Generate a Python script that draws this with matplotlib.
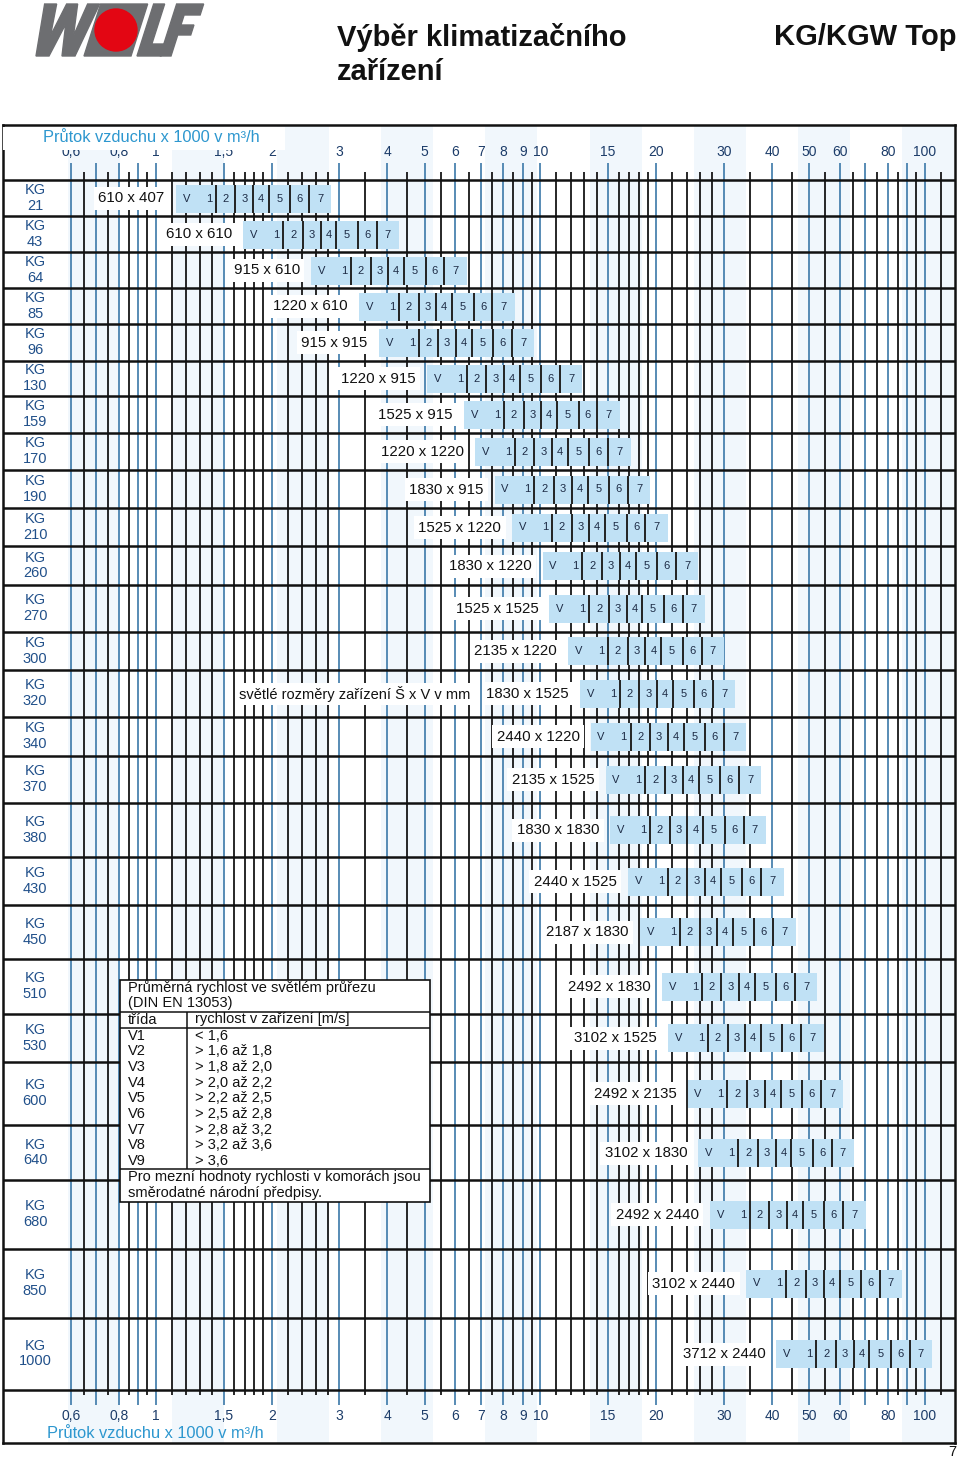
import numpy as np
import matplotlib.pyplot as plt
from matplotlib.patches import Rectangle, Polygon, Circle
from matplotlib.ticker import NullLocator
import matplotlib.transforms as mtransforms

plt.rcParams['font.family'] = ['Liberation Sans', 'DejaVu Sans']

# unit sizes and clear inner dimensions (mm)
models = ['21', '43', '64', '85', '96', '130', '159', '170', '190', '210', '260', '270', '300',
          '320', '340', '370', '380', '430', '450', '510', '530', '600', '640', '680', '850', '1000']
width_mm = [610, 610, 915, 1220, 915, 1220, 1525, 1220, 1830, 1525, 1830, 1525, 2135,
            1830, 2440, 2135, 1830, 2440, 2187, 2492, 3102, 2492, 3102, 2492, 3102, 3712]
height_mm = [407, 610, 610, 610, 915, 915, 915, 1220, 915, 1220, 1220, 1525, 1220,
             1525, 1220, 1525, 1830, 1525, 1830, 1830, 1525, 2135, 1830, 2440, 2440, 2440]

# velocity classes (m/s) after DIN EN 13053
classes = ['V1', 'V2', 'V3', 'V4', 'V5', 'V6', 'V7', 'V8', 'V9']
class_limits = [1.6, 1.8, 2.0, 2.2, 2.5, 2.8, 3.2, 3.6]
bar_start_v = 1.26   # left end of the "V" cell
bar_classes = 7

# air flow axis, x 1000 m3/h
major_lines = [0.6, 0.7, 0.8, 0.9, 1, 1.5, 2, 3, 4, 5, 6, 7, 8, 9, 10, 15, 20, 30, 40, 50,
               60, 70, 80, 90, 100]
minor_lines = [0.65, 0.75, 0.85, 0.95, 1.1, 1.2, 1.3, 1.4, 1.6, 1.7, 1.8, 1.9, 2.2, 2.4, 2.6,
               2.8, 3.5, 4.5, 5.5, 6.5, 7.5, 8.5, 9.5, 11, 12, 13, 14, 16, 17, 18, 19, 22, 24,
               26, 28, 35, 45, 55, 65, 75, 85, 95, 110]
tick_values = [0.6, 0.8, 1, 1.5, 2, 3, 4, 5, 6, 7, 8, 9, 10, 15, 20, 30, 40, 50, 60, 80, 100]
tick_labels = ['0,6', '0,8', '1', '1,5', '2', '3', '4', '5', '6', '7', '8', '9', '10', '15',
               '20', '30', '40', '50', '60', '80', '100']
axis_title = 'Průtok vzduchu x 1000 v m³/h'

# layout (pixels from the top of the page)
W, H = 960, 1461
X_MIN, X_MAX = 0.4, 120
FRAME_L, FRAME_R, FRAME_T, FRAME_B = 3, 955.4, 125, 1443
row_edges = [180, 216, 252, 288, 324, 360.5, 396, 432.5, 470, 508, 546, 585, 631.5, 670,
             716.5, 756, 802.5, 857, 905, 958.5, 1014, 1061.5, 1125, 1180, 1248.5, 1317.5, 1389.5]

BLUE_LINE = '#3b78a8'
DARK = '#161616'
BAR = '#c0e1f5'
NAVY = '#1c3c69'
KG_BLUE = '#21508a'
CYAN = '#2d97cf'


def px2x(px):
    return X_MIN * (X_MAX / X_MIN) ** ((px - FRAME_L) / (FRAME_R - FRAME_L))


fig = plt.figure(figsize=(W / 100, H / 100), dpi=100)
ax = fig.add_axes([FRAME_L / W, 1 - FRAME_B / H, (FRAME_R - FRAME_L) / W, (FRAME_B - FRAME_T) / H])
ax.set_xscale('log')
ax.set_xlim(X_MIN, X_MAX)
ax.set_ylim(FRAME_B, FRAME_T)
ax.set_xticks([])
ax.set_yticks([])
ax.xaxis.set_minor_locator(NullLocator())
for s in ax.spines.values():
    s.set_linewidth(1.8)
    s.set_color('#111111')

# faint background bands
for p in np.arange(68, FRAME_R, 104.3):
    ax.axvspan(px2x(p), px2x(min(p + 52, FRAME_R)), color='#f1f7fc', zorder=0, lw=0)

top, bot = row_edges[0], row_edges[-1]
ax.vlines(major_lines, top, bot, color=BLUE_LINE, lw=1.2, zorder=1)
ax.vlines(minor_lines, top, bot, color=DARK, lw=1.3, zorder=1)
ax.vlines(major_lines, top - 17, top, color=BLUE_LINE, lw=1.2, zorder=1)
ax.vlines(minor_lines, top - 8, top, color=DARK, lw=1.3, zorder=1)
ax.vlines(major_lines, bot, bot + 15, color=BLUE_LINE, lw=1.2, zorder=1)
ax.vlines(minor_lines, bot, bot + 5, color=DARK, lw=1.3, zorder=1)
ax.hlines(row_edges, X_MIN, X_MAX, color='#111111', lw=1.8, zorder=2)

for v, lab in zip(tick_values, tick_labels):
    ax.text(v, 152.5, lab, ha='center', va='center', fontsize=10, color=NAVY, zorder=3)
    ax.text(v, 1416, lab, ha='center', va='center', fontsize=10, color=NAVY, zorder=3)

# title box in the top band hides the upper part of the first labels
ax.add_patch(Rectangle((X_MIN, 126.5), px2x(285) - X_MIN, 23, color='white', zorder=4, lw=0))
ax.text(px2x(43), 137, axis_title, ha='left', va='center', fontsize=11.8, color=CYAN, zorder=5)
ax.text(px2x(47), 1433, axis_title, ha='left', va='center', fontsize=11.8, color=CYAN, zorder=5)

trans_kg = mtransforms.blended_transform_factory(ax.transAxes, ax.transData)
for i, m in enumerate(models):
    yc = (row_edges[i] + row_edges[i + 1]) / 2
    ax.text(32 / (FRAME_R - FRAME_L), yc, f'KG\n{m}', transform=trans_kg, ha='center',
            va='center', fontsize=10.5, color=KG_BLUE, linespacing=1.15, zorder=5)

cell_kw = dict(ha='center', va='center', fontsize=8, color='#1d2b45', zorder=6)
for i, (w, h) in enumerate(zip(width_mm, height_mm)):
    yc = (row_edges[i] + row_edges[i + 1]) / 2 + 0.5
    q = w * h / 1e6 * 3.6   # 1000 m3/h at 1 m/s
    edges = q * np.array([bar_start_v] + class_limits[:bar_classes])
    ax.barh(yc, edges[-1] - edges[0], left=edges[0], height=28, color=BAR, lw=0, zorder=3)
    ax.vlines(edges[1:-1], yc - 14, yc + 14, color='#222222', lw=1.4, zorder=4)
    ax.annotate('V', (edges[0], yc), xytext=(7.5, 0), textcoords='offset points', **cell_kw)
    ax.annotate('1', (edges[1], yc), xytext=(-5, 0), textcoords='offset points', **cell_kw)
    for k in range(1, bar_classes):
        ax.text(np.sqrt(edges[k] * edges[k + 1]), yc, str(k + 1), **cell_kw)
    ax.annotate(f'{w} x {h}', (edges[0], yc), xytext=(-8, 0), textcoords='offset points',
                ha='right', va='center', fontsize=10.8, color='#111111', zorder=6,
                bbox=dict(boxstyle='square,pad=0.3', fc='white', ec='none'))
    if models[i] == '320':
        ax.annotate('světlé rozměry zařízení Š x V v mm', (edges[0], yc), xytext=(-79, 0),
                    textcoords='offset points', ha='right', va='center', fontsize=10.5,
                    color='#111111', zorder=6,
                    bbox=dict(boxstyle='square,pad=0.2', fc='white', ec='none'))

# overlay in page pixels: header, logo, velocity table, page number
ov = fig.add_axes([0, 0, 1, 1], zorder=10)
ov.set_xlim(0, W)
ov.set_ylim(H, 0)
ov.axis('off')
ov.patch.set_alpha(0)

ov.text(337, 37, 'Výběr klimatizačního', ha='left', va='center', fontsize=21,
        fontweight='bold', color='#111111')
ov.text(337, 72, 'zařízení', ha='left', va='center', fontsize=21, fontweight='bold',
        color='#111111')
ov.text(957, 37, 'KG/KGW Top', ha='right', va='center', fontsize=21, fontweight='bold',
        color='#111111')

# logo: slanted block letters
GREY = '#6d6e71'
SLANT = 0.32


def skew(pts, x0):
    return [[x0 + u + SLANT * (56 - y), y] for u, y in pts]


w_pts = [(0, 4), (12, 4), (16, 36), (22, 4), (33, 4), (39, 36), (43, 4), (55, 4),
         (47, 56), (34, 56), (27.5, 24), (21, 56), (8, 56)]
l_pts = [(0, 4), (11, 4), (11, 44), (24, 44), (24, 56), (0, 56)]
f_pts = [(0, 4), (27, 4), (27, 15), (11, 15), (11, 25), (24, 25), (24, 35), (11, 35),
         (11, 56), (0, 56)]
ov.add_patch(Polygon(skew(w_pts, 28), closed=True, color=GREY))
ov.add_patch(Polygon(skew([(0, 4), (47, 4), (47, 56), (0, 56)], 84), closed=True, color=GREY))
ov.add_patch(Circle((116, 30), 21, color='#e30613'))
ov.add_patch(Polygon(skew(l_pts, 137), closed=True, color=GREY))
ov.add_patch(Polygon(skew(f_pts, 160), closed=True, color=GREY))

tx0, tx1, ty0, ty1 = 120, 430, 980, 1202
ov.add_patch(Rectangle((tx0, ty0), tx1 - tx0, ty1 - ty0, fc='white', ec='#111111', lw=1.2))
ov.hlines([1011.7, 1027.7, 1169.3], tx0, tx1, color='#111111', lw=1.1)
ov.vlines(187.3, 1011.7, 1169.3, color='#111111', lw=1.1)
tkw = dict(ha='left', va='center', fontsize=10.5, color='#111111')
ov.text(128, 987.5, 'Průměrná rychlost ve světlém průřezu', **tkw)
ov.text(128, 1003.5, '(DIN EN 13053)', **tkw)
ov.text(128, 1019.5, 'třída', **tkw)
ov.text(195, 1019.5, 'rychlost v zařízení [m/s]', **tkw)


def fmt(v):
    return f'{v:.1f}'.replace('.', ',')


ranges = ['< ' + fmt(class_limits[0])]
ranges += [f'> {fmt(a)} až {fmt(b)}' for a, b in zip(class_limits[:-1], class_limits[1:])]
ranges += ['> ' + fmt(class_limits[-1])]
for j, (c, r) in enumerate(zip(classes, ranges)):
    ov.text(128, 1035.5 + j * 15.7, c, **tkw)
    ov.text(195, 1035.5 + j * 15.7, r, **tkw)
ov.text(128, 1177.5, 'Pro mezní hodnoty rychlosti v komorách jsou', **tkw)
ov.text(128, 1193.5, 'směrodatné národní předpisy.', **tkw)

ov.text(956, 1452, '7', ha='right', va='center', fontsize=10.5, color='#111111')

fig.savefig('out.png', dpi=100)
